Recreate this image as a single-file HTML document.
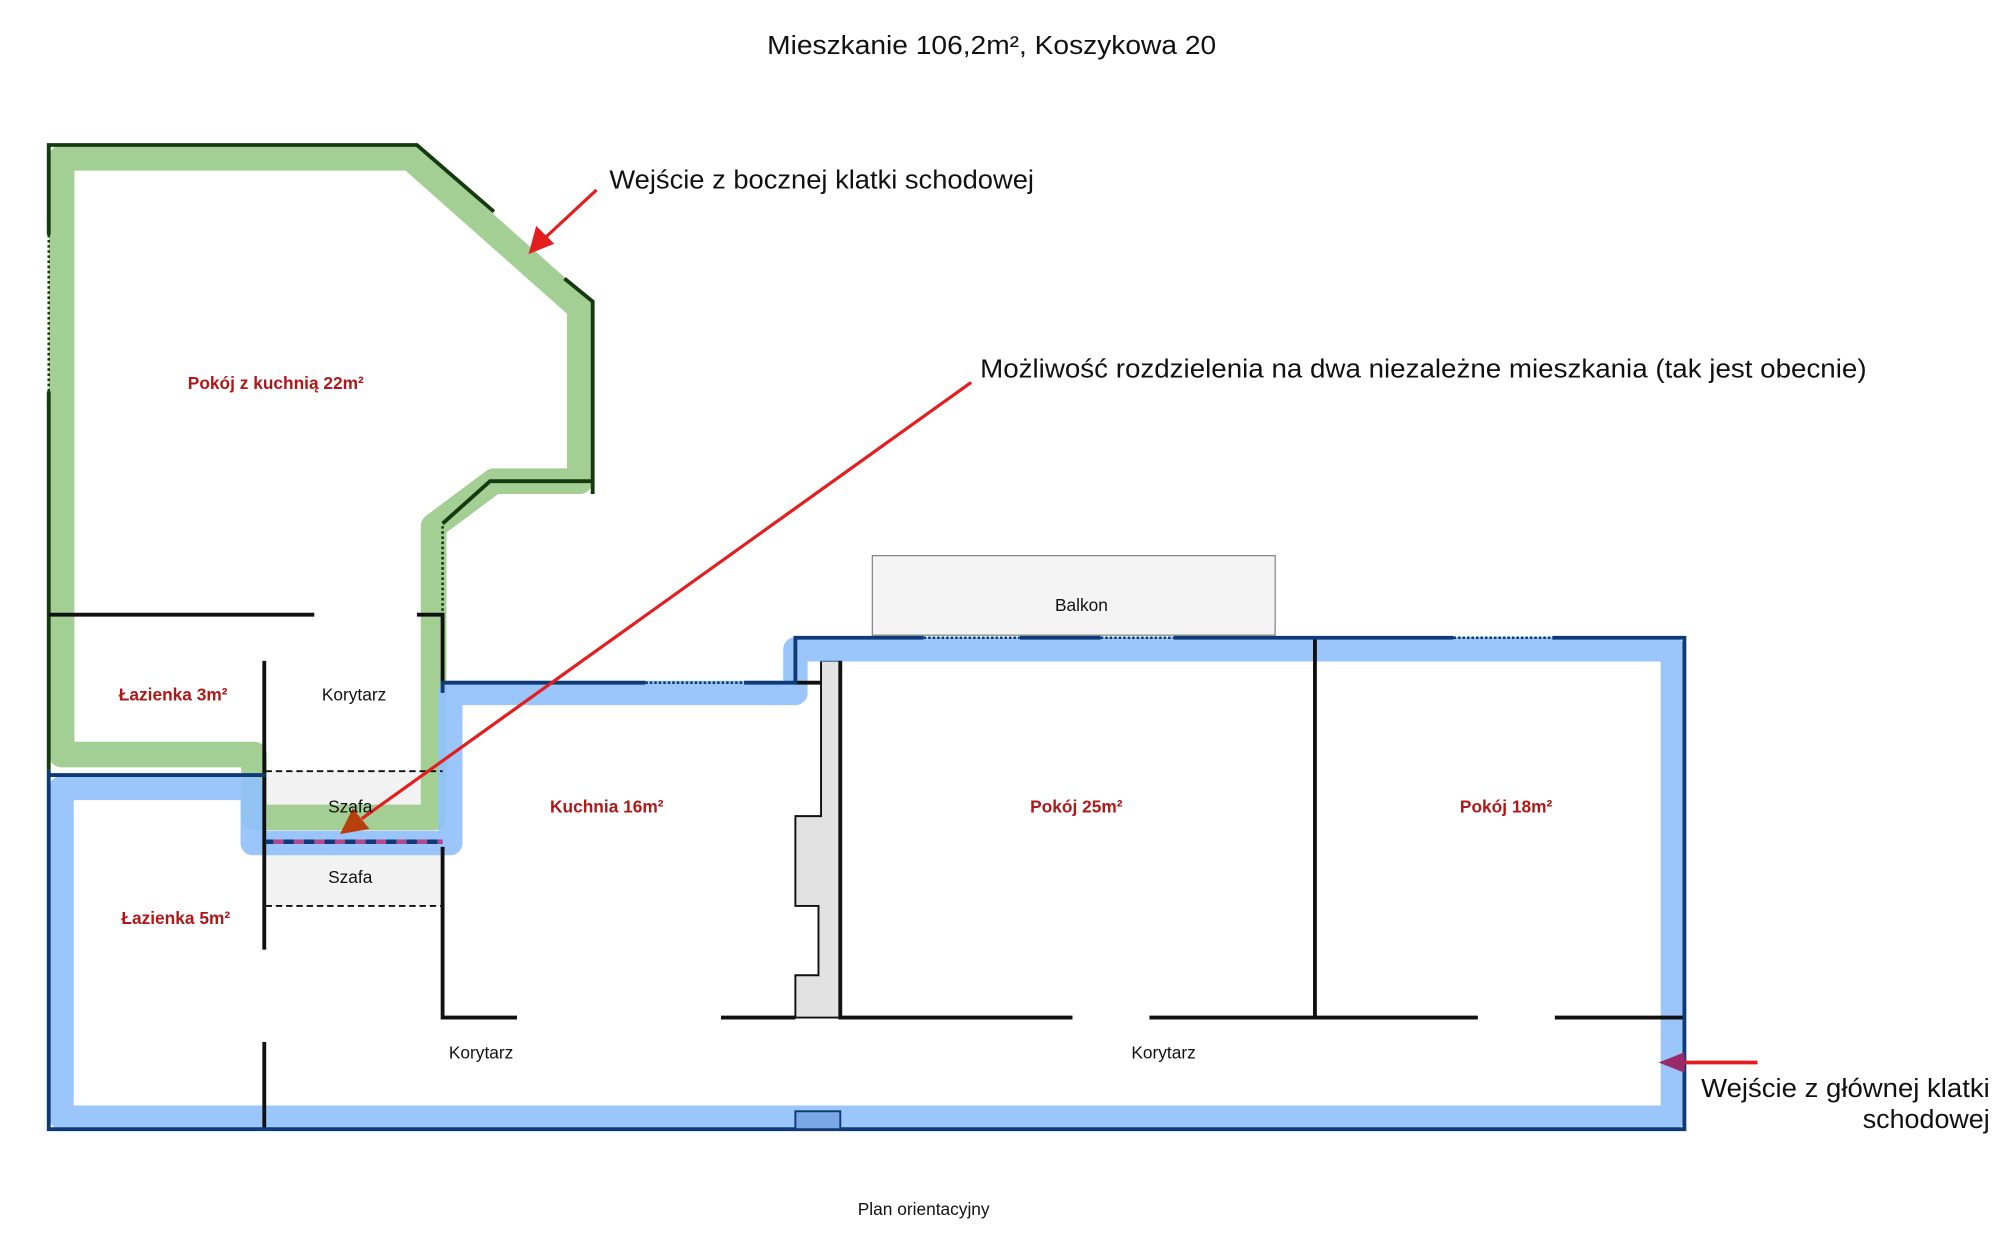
<!DOCTYPE html>
<html><head><meta charset="utf-8"><style>
html,body{margin:0;padding:0;background:#fff}
svg{display:block}
text{font-family:"Liberation Sans","DejaVu Sans",sans-serif}
.r{fill:#b01818;font-weight:bold;font-size:13.5px}
.k{fill:#111;font-size:13.5px}
</style></head><body>
<svg width="2000" height="1246" viewBox="0 0 1559 971" preserveAspectRatio="none" xmlns="http://www.w3.org/2000/svg">
<rect width="1559" height="971" fill="#fff"/>
<rect x="680" y="433" width="314" height="62" fill="#f4f4f4" stroke="#888" stroke-width="1"/>
<path d="M640,515 L655,515 L655,793 L620,793 L620,760 L638,760 L638,706 L620,706 L620,636 L640,636 Z" fill="#e2e2e2" stroke="#111" stroke-width="1.5"/>
<rect x="207" y="601" width="138" height="105" fill="#f2f2f2"/>
<path d="M48,123 L320,123 L452,240 L452,375 L385,375 L338,410 L338,637 L198,637 L198,588 L48,588 Z" fill="none" stroke="#a3cf94" stroke-width="20" stroke-linejoin="round"/>
<path d="M48,614 L197,614 L197,657 L351,657 L351,540 L620,540 L620,506 L1304,506 L1304,871 L48,871 Z" fill="none" stroke="#8fc0fb" stroke-opacity="0.9" stroke-width="19" stroke-linejoin="round"/>
<g stroke="#163a10" stroke-width="3" fill="none">
<path d="M38,183 L38,113 L325,113 L385,165"/>
<path d="M440,217 L462,235 L462,385"/>
<path d="M462,375 L382,375 L345,408"/>
<path d="M38,305 L38,600"/>
</g>
<g stroke="#163a10" stroke-width="2" stroke-dasharray="2,2" fill="none">
<path d="M38,183 L38,305"/><path d="M345,410 L345,478"/>
</g>
<g stroke="#111" stroke-width="3" fill="none">
<path d="M38,479 L245,479"/><path d="M325,479 L345,479 L345,532"/>
<path d="M206,515 L206,740"/><path d="M206,812 L206,880"/>
<path d="M345,660 L345,793 L403,793"/><path d="M562,793 L620,793"/>
<path d="M655,515 L655,793 L836,793"/><path d="M896,793 L1152,793"/><path d="M1212,793 L1313,793"/>
<path d="M1025,497 L1025,793"/>
<path d="M620,532 L640,532"/>
</g>
<g stroke="#111" stroke-width="1.5" stroke-dasharray="5,3" fill="none">
<path d="M207,601 L345,601"/><path d="M207,706 L345,706"/>
</g>
<g stroke="#0e3a78" stroke-width="3" fill="none">
<path d="M38,600 L38,880 L1313,880 L1313,497 L1210,497"/>
<path d="M1133,497 L915,497"/><path d="M858,497 L795,497"/><path d="M720,497 L620,497 L620,532 L580,532"/>
<path d="M503,532 L345,532 L345,540"/>
<path d="M38,604 L207,604"/>
</g>
<g stroke="#0e3a78" stroke-width="2" stroke-dasharray="2,1.5" fill="none">
<path d="M720,497 L795,497"/><path d="M858,497 L915,497"/><path d="M1133,497 L1210,497"/><path d="M503,532 L580,532"/>
</g>
<path d="M207,656 L345,656" stroke="#0e3a78" stroke-width="3.5"/>
<path d="M213,656 L345,656" stroke="#b04a90" stroke-width="3.5" stroke-dasharray="8,8"/>
<rect x="620" y="866" width="35" height="14" fill="#7aa8e6" stroke="#0e3a78" stroke-width="1.5"/>
<path d="M465,148 L422,188" stroke="#e41e1e" stroke-width="2.5"/>
<path d="M412,198 L418,176 L432,190 Z" fill="#e41e1e"/>
<path d="M757,298 L282,638" stroke="#e41e1e" stroke-width="2.5"/>
<path d="M265,650 L275,630 L288,646 Z" fill="#b8400e"/>
<path d="M1370,828 L1310,828" stroke="#e41e1e" stroke-width="3"/>
<path d="M1293,828 L1313,820 L1313,836 Z" fill="#9a2a6a"/>
<text x="598" y="42" textLength="350" lengthAdjust="spacingAndGlyphs" font-size="20" fill="#111">Mieszkanie 106,2m², Koszykowa 20</text>
<text x="475" y="147" textLength="331" lengthAdjust="spacingAndGlyphs" font-size="20" fill="#111">Wejście z bocznej klatki schodowej</text>
<text x="764" y="294" textLength="691" lengthAdjust="spacingAndGlyphs" font-size="20" fill="#111">Możliwość rozdzielenia na dwa niezależne mieszkania  (tak jest obecnie)</text>
<text x="1326" y="855" textLength="225" lengthAdjust="spacingAndGlyphs" font-size="20" fill="#111">Wejście z głównej klatki</text>
<text x="1452" y="879" textLength="99" lengthAdjust="spacingAndGlyphs" font-size="20" fill="#111">schodowej</text>
<text class="r" x="215" y="303" text-anchor="middle">Pokój z kuchnią 22m²</text>
<text class="r" x="135" y="546" text-anchor="middle">Łazienka 3m²</text>
<text class="r" x="137" y="720" text-anchor="middle">Łazienka  5m²</text>
<text class="r" x="473" y="633" text-anchor="middle">Kuchnia  16m²</text>
<text class="r" x="839" y="633" text-anchor="middle">Pokój  25m²</text>
<text class="r" x="1174" y="633" text-anchor="middle">Pokój  18m²</text>
<text class="k" x="276" y="546" text-anchor="middle">Korytarz</text>
<text class="k" x="273" y="633" text-anchor="middle">Szafa</text>
<text class="k" x="273" y="688" text-anchor="middle">Szafa</text>
<text class="k" x="375" y="825" text-anchor="middle">Korytarz</text>
<text class="k" x="907" y="825" text-anchor="middle">Korytarz</text>
<text class="k" x="843" y="476" text-anchor="middle">Balkon</text>
<text class="k" x="720" y="947" text-anchor="middle" font-size="13">Plan orientacyjny</text>
</svg>
</body></html>
